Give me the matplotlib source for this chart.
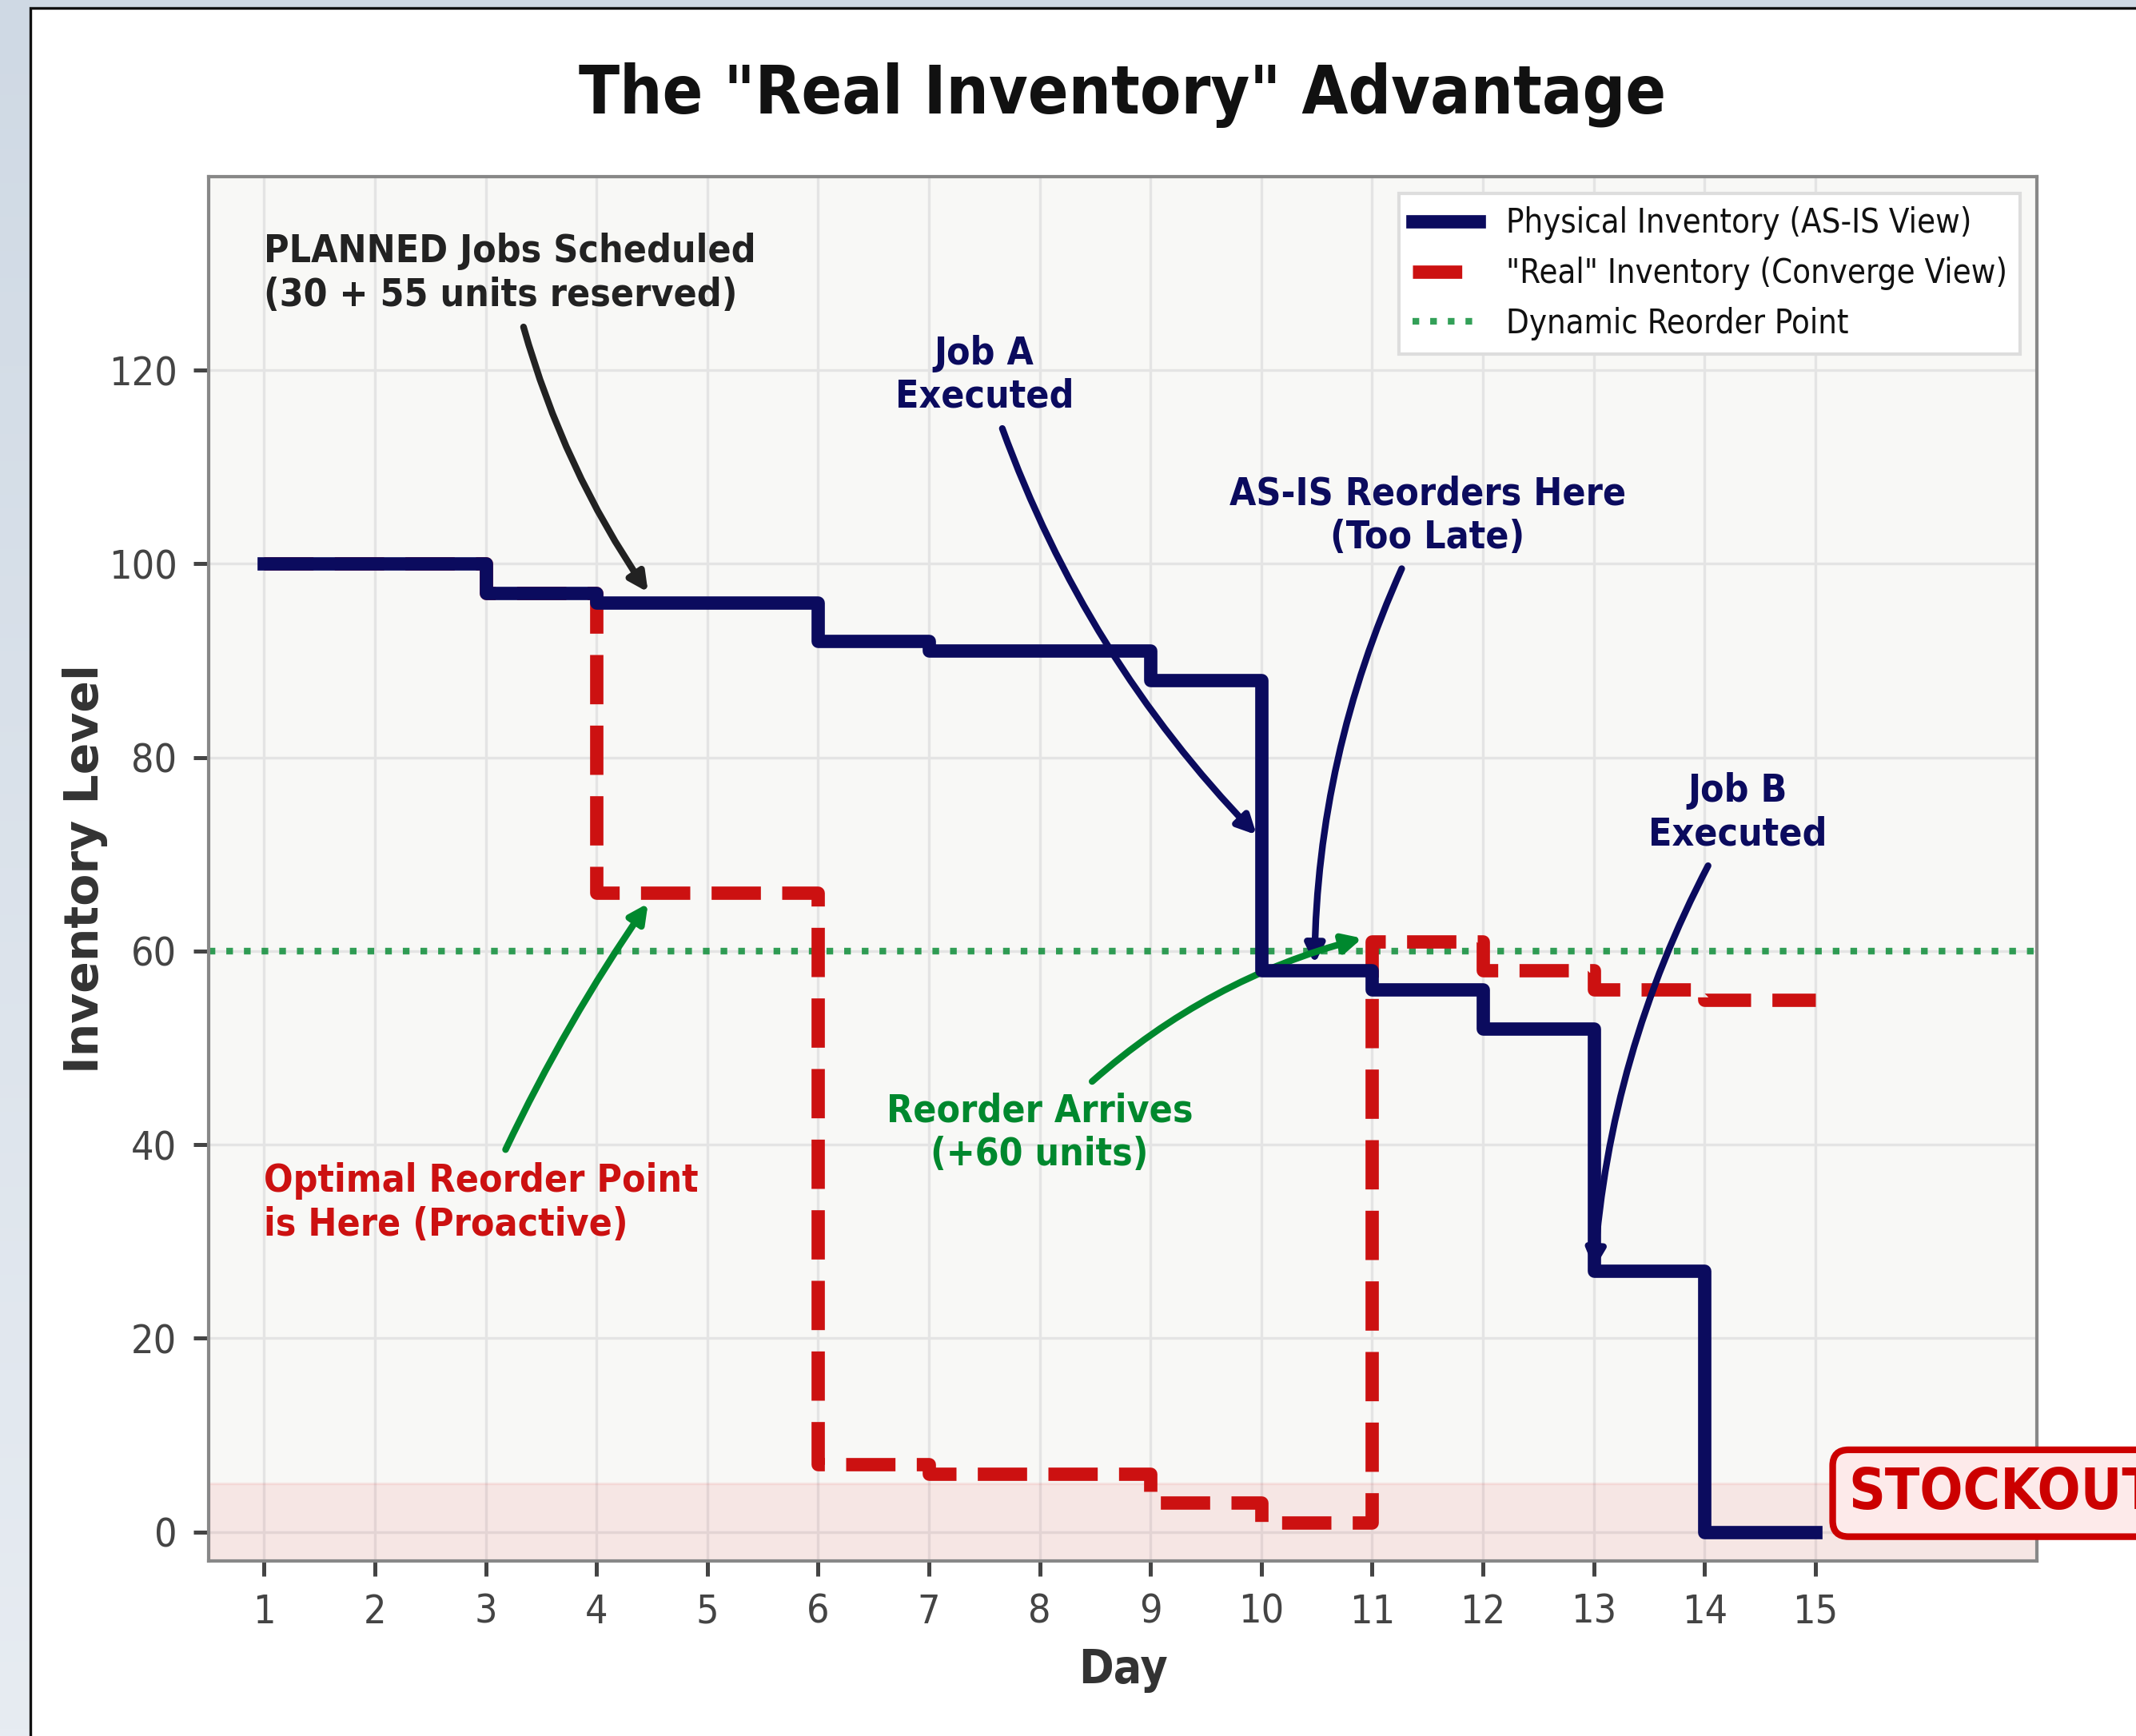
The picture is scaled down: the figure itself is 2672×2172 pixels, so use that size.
import numpy as np
import matplotlib
matplotlib.use("Agg")
import matplotlib.pyplot as plt
from matplotlib.patches import Rectangle

# inventory by day
days = list(range(1, 16))
physical = [100, 100, 97, 96, 96, 92, 91, 91, 88, 58, 56, 52, 27, 0, 0]
real = [100, 100, 97, 66, 66, 7, 6, 6, 3, 1, 61, 58, 56, 55, 55]
reorder_point = 60
stockout_level = 5
yticks = [0, 20, 40, 60, 80, 100, 120]

NAVY = "#0b0b5e"
RED = "#cc1111"
GREEN = "#00882e"

plt.rcParams["font.family"] = "DejaVu Sans"
plt.rcParams["font.stretch"] = "condensed"

fig = plt.figure(figsize=(2672 / 300, 2172 / 300), dpi=300)

# page background (soft vertical gradient) + white card
bg = fig.add_axes([0, 0, 1, 1], zorder=-5)
grad = np.linspace(0, 1, 256).reshape(-1, 1)
bg.imshow(grad, aspect="auto", extent=(0, 1, 0, 1), origin="upper",
          cmap=matplotlib.colors.LinearSegmentedColormap.from_list(
              "page", ["#cfd9e4", "#e7ecf2"]))
bg.axis("off")
card = Rectangle((0.0142, -0.05), 1.2, 1.0454, transform=fig.transFigure,
                 facecolor="white", edgecolor="#111111", lw=0.8, zorder=-1)
fig.add_artist(card)

ax = fig.add_axes([0.0977, 0.1008, 0.8559, 0.7975])
ax.set_facecolor("#f8f8f6")
ax.set_axisbelow(True)
ax.grid(True, color="#e4e4e4", lw=0.8)

ax.axhspan(-10, stockout_level, color="#e31a1c", alpha=0.08, lw=0.8)
l_rop = ax.axhline(reorder_point, color=GREEN, ls=":", lw=2, alpha=0.8,
                   label="Dynamic Reorder Point")
l_real, = ax.step(days, real, where="post", color=RED, lw=4, ls="--",
                  label='"Real" Inventory (Converge View)', zorder=3)
l_phys, = ax.step(days, physical, where="post", color=NAVY, lw=4,
                  label="Physical Inventory (AS-IS View)", zorder=4)

ax.set_xlim(0.5, 17)
ax.set_ylim(-3, 140)
ax.set_xticks(days)
ax.set_yticks(yticks)
ax.tick_params(labelsize=12, colors="#444444", length=4.5, width=1.2, pad=5)
for s in ax.spines.values():
    s.set_color("#888888")
    s.set_linewidth(1.0)

ax.set_title('The "Real Inventory" Advantage', fontsize=20,
             fontweight="bold", pad=19, color="#111111")
ax.set_xlabel("Day", fontsize=14, fontweight="bold", color="#333333", labelpad=5)
ax.set_ylabel("Inventory Level", fontsize=14, fontweight="bold",
              fontstretch="normal", color="#333333")
ax.yaxis.set_label_coords(-0.055, 0.5)

leg = ax.legend(handles=[l_phys, l_real, l_rop], loc="upper right",
                fontsize=10, fancybox=False, framealpha=1,
                edgecolor="#dddddd")
for t in leg.get_texts():
    t.set_color("#111111")

# annotations
ax.annotate("PLANNED Jobs Scheduled\n(30 + 55 units reserved)",
            xy=(4.5, 96.5), xytext=(1.0, 130), ha="left", va="center",
            fontsize=11.5, fontweight="bold", color="#222222",
            arrowprops=dict(arrowstyle="-|>", color="#222222", lw=2,
                            connectionstyle="arc3,rad=0.1"))
ax.annotate("Job A\nExecuted", xy=(10.0, 71.5), xytext=(7.5, 119.5),
            ha="center", va="center", fontsize=11.5, fontweight="bold",
            color=NAVY,
            arrowprops=dict(arrowstyle="-|>", color=NAVY, lw=2,
                            connectionstyle="arc3,rad=0.12"))
ax.annotate("AS-IS Reorders Here\n(Too Late)", xy=(10.48, 58),
            xytext=(11.5, 105), ha="center", va="center", fontsize=11.5,
            fontweight="bold", color=NAVY,
            arrowprops=dict(arrowstyle="-|>", color=NAVY, lw=2,
                            connectionstyle="arc3,rad=0.12"))
ax.annotate("Job B\nExecuted", xy=(13.0, 26.5), xytext=(14.3, 74.3),
            ha="center", va="center", fontsize=11.5, fontweight="bold",
            color=NAVY,
            arrowprops=dict(arrowstyle="-|>", color=NAVY, lw=2,
                            connectionstyle="arc3,rad=0.12"))
ax.annotate("Reorder Arrives\n(+60 units)", xy=(10.97, 61.5),
            xytext=(8.0, 41.2), ha="center", va="center", fontsize=11.5,
            fontweight="bold", color=GREEN,
            arrowprops=dict(arrowstyle="-|>", color=GREEN, lw=2,
                            connectionstyle="arc3,rad=-0.15"))
ax.annotate("Optimal Reorder Point\nis Here (Proactive)", xy=(4.5, 65.5),
            xytext=(1.0, 34), ha="left", va="center", fontsize=11.5,
            fontweight="bold", color=RED,
            arrowprops=dict(arrowstyle="-|>", color=GREEN, lw=2,
                            connectionstyle="arc3,rad=-0.05"))

ax.text(15.3, 4, "STOCKOUT", fontsize=17, fontweight="bold", color="#cc0000",
        ha="left", va="center",
        bbox=dict(boxstyle="round,pad=0.28", fc="#fdeaea", ec="#cc0000", lw=2))

fig.savefig("out.png", dpi=300)
